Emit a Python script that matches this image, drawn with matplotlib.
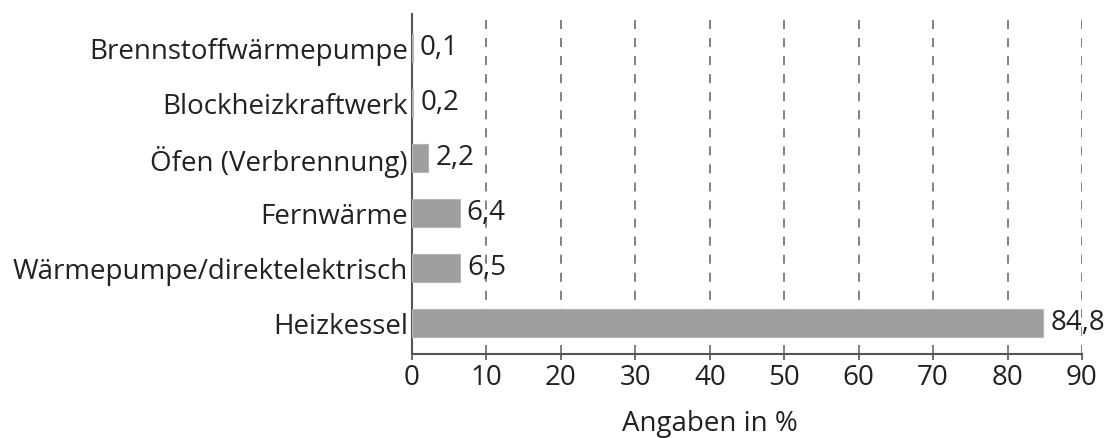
import matplotlib
matplotlib.use("Agg")
import matplotlib.pyplot as plt

categories = ["Heizkessel", "Wärmepumpe/direktelektrisch", "Fernwärme",
              "Öfen (Verbrennung)", "Blockheizkraftwerk", "Brennstoffwärmepumpe"]
values = [84.8, 6.5, 6.4, 2.2, 0.2, 0.1]
value_labels = ["84,8", "6,5", "6,4", "2,2", "0,2", "0,1"]
xticks = [0, 10, 20, 30, 40, 50, 60, 70, 80, 90]
xlabel = "Angaben in %"

plt.rcParams['font.family'] = ['Open Sans', 'DejaVu Sans']
txt = "#222222"
fs = 20

fig = plt.figure(figsize=(11.11, 4.38), dpi=100)
ax = fig.add_axes([412/1111, 1-354/438, (1082-412)/1111, (354-14)/438])

y = list(range(len(categories)))
ax.barh(y, values, height=0.5, color="#9e9e9e", edgecolor="#b5b5b5", linewidth=0.8, zorder=3)
for yi, v, lab in zip(y, values, value_labels):
    ax.annotate(lab, (v, yi), xytext=(5, 0), textcoords="offset points",
                va="center", ha="left", fontsize=fs, color=txt, zorder=4)

ax.set_xlim(0, 90)
ax.set_ylim(-0.56, 5.62)
ax.set_xticks(xticks)
ax.set_xticklabels([str(t) for t in xticks], fontsize=fs, color=txt)
ax.set_yticks(y)
ax.set_yticklabels(categories, fontsize=fs, color=txt)
ax.tick_params(axis='y', length=0, pad=3)
ax.tick_params(axis='x', length=4, width=1.2, color="#555555", pad=3, direction='out')

for t in xticks[1:]:
    ax.axvline(t, color="#777777", linestyle=(0, (5, 5)), linewidth=1.3, zorder=1)

for s in ["top", "right"]:
    ax.spines[s].set_visible(False)
for s in ["left", "bottom"]:
    ax.spines[s].set_color("#555555")
    ax.spines[s].set_linewidth(1.5)

fig.text(710/1111, 1-424/438, xlabel, ha="center", va="center", fontsize=fs, color=txt)

fig.savefig("out.png", dpi=100)
